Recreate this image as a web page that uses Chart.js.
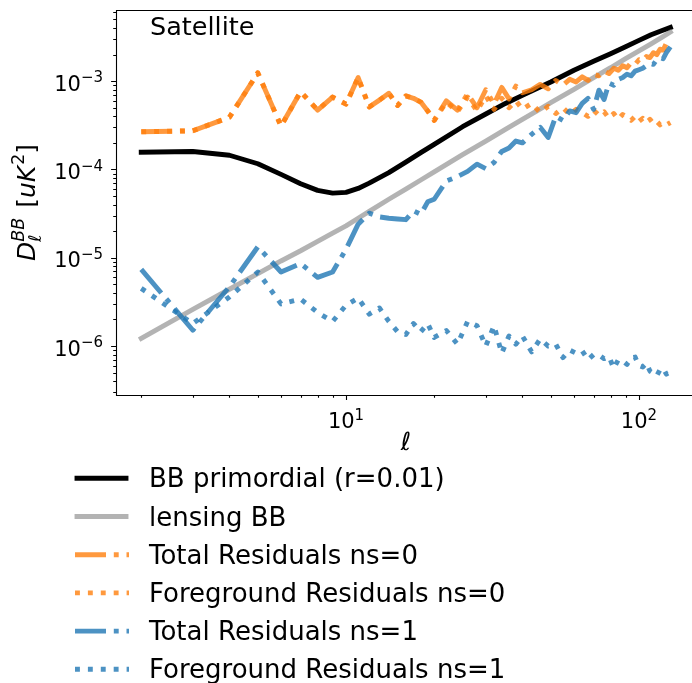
<!DOCTYPE html>
<html>
<head>
<meta charset="utf-8">
<script src="https://cdn.jsdelivr.net/npm/chart.js@4.4.1/dist/chart.umd.min.js"></script>
<style>
html, body { margin: 0; padding: 0; background: #fff; overflow: hidden; }
</style>
</head>
<body>
<canvas id="myChart" width="692" height="683"></canvas>
<script>
// multipole grid for the theory curves
var ellTheory = [2, 3, 4, 5, 6, 7, 8, 9, 10, 11, 12, 14, 16, 18, 20, 25, 30, 35, 40, 45, 50, 60, 70, 80, 90, 100, 110, 120, 128];
var bbPrimordial = [1.57e-4, 1.6e-4, 1.45e-4, 1.16e-4, 8.8e-5, 6.9e-5, 5.8e-5, 5.4e-5, 5.5e-5, 6.1e-5, 7.0e-5, 9.2e-5, 1.21e-4, 1.55e-4, 1.92e-4,
  3.05e-4, 4.25e-4, 5.6e-4, 6.9e-4, 8.3e-4, 9.8e-4, 1.33e-3, 1.68e-3, 2.05e-3, 2.45e-3, 2.9e-3, 3.35e-3, 3.75e-3, 4.06e-3];
var lensingBB = [1.22e-6, 2.6e-6, 4.4e-6, 6.6e-6, 9.2e-6, 1.2e-5, 1.53e-5, 1.9e-5, 2.3e-5, 2.8e-5, 3.35e-5, 4.6e-5, 6.0e-5, 7.6e-5, 9.4e-5,
  1.47e-4, 2.1e-4, 2.85e-4, 3.7e-4, 4.65e-4, 5.7e-4, 8.1e-4, 1.1e-3, 1.42e-3, 1.8e-3, 2.2e-3, 2.65e-3, 3.15e-3, 3.6e-3];

// multipole grid for the residuals
var ellResid = [2, 3, 4, 5, 6, 7, 8, 9, 10, 11, 12, 13, 14, 15, 16, 17, 18, 19, 20,
  22, 24, 26, 28, 30, 32, 34, 36, 38, 40,
  43, 46, 49, 52, 55, 58, 61, 64, 67, 70, 73, 76, 79, 82, 85, 88, 91, 94, 97, 100,
  103, 106, 109, 112, 115, 118, 121, 124, 128];
var totalNs0 = [2.67e-4, 2.74e-4, 3.9e-4, 1.24e-3, 3.1e-4, 7.6e-4, 4.7e-4, 6.6e-4, 5.5e-4, 1.1e-3,
  5.1e-4, 6.1e-4, 7.3e-4, 5.3e-4, 6.8e-4, 6.4e-4, 5.8e-4, 4.6e-4, 3.6e-4,
  6.0e-4, 4.7e-4, 7.2e-4, 5.0e-4, 8.0e-4, 5.5e-4, 8.5e-4, 6.3e-4, 8.8e-4, 7.4e-4,
  8.0e-4, 9.2e-4, 8.2e-4, 1.02e-3, 9.0e-4, 1.05e-3, 9.8e-4, 1.12e-3, 1.02e-3, 1.2e-3,
  1.15e-3, 1.3e-3, 1.22e-3, 1.4e-3, 1.33e-3, 1.5e-3, 1.42e-3, 1.62e-3, 1.55e-3, 1.75e-3,
  1.7e-3, 1.9e-3, 1.85e-3, 2.1e-3, 2.0e-3, 2.3e-3, 2.25e-3, 2.7e-3, 2.6e-3];
var fgNs0 = [2.67e-4, 2.74e-4, 3.9e-4, 1.24e-3, 3.1e-4, 7.6e-4, 4.7e-4, 6.6e-4, 5.5e-4, 1.1e-3,
  5.1e-4, 6.1e-4, 7.3e-4, 5.3e-4, 6.8e-4, 6.4e-4, 5.8e-4, 4.6e-4, 3.6e-4,
  5.8e-4, 4.5e-4, 6.6e-4, 4.6e-4, 6.8e-4, 4.8e-4, 6.4e-4, 5.0e-4, 6.0e-4, 4.8e-4,
  5.6e-4, 4.4e-4, 5.2e-4, 4.3e-4, 5.0e-4, 4.2e-4, 4.8e-4, 4.4e-4, 4.0e-4, 4.7e-4,
  4.1e-4, 4.5e-4, 3.8e-4, 4.3e-4, 3.7e-4, 4.2e-4, 3.9e-4, 3.6e-4, 4.0e-4, 3.5e-4,
  3.8e-4, 3.4e-4, 3.7e-4, 3.3e-4, 3.5e-4, 3.2e-4, 3.4e-4, 3.2e-4, 3.4e-4];
var totalNs1 = [7.4e-6, 1.51e-6, 4.7e-6, 1.33e-5, 6.9e-6, 8.6e-6, 6.0e-6, 6.9e-6, 1.25e-5, 2.4e-5,
  3.2e-5, 2.9e-5, 2.8e-5, 2.75e-5, 2.7e-5, 3.4e-5, 3.1e-5, 4.3e-5, 4.6e-5,
  7.4e-5, 8.3e-5, 9.5e-5, 1.15e-4, 1.02e-4, 1.2e-4, 1.6e-4, 1.75e-4, 2.1e-4, 2.0e-4,
  2.5e-4, 3.0e-4, 2.3e-4, 4.0e-4, 3.6e-4, 4.6e-4, 4.4e-4, 5.6e-4, 6.4e-4, 4.8e-4,
  7.9e-4, 6.2e-4, 9.5e-4, 9.0e-4, 1.05e-3, 1.1e-3, 1.2e-3, 1.15e-3, 1.3e-3, 1.35e-3,
  1.4e-3, 1.5e-3, 1.6e-3, 1.55e-3, 1.75e-3, 1.85e-3, 1.8e-3, 2.1e-3, 2.45e-3];
var fgNs1 = [4.5e-6, 1.8e-6, 3.6e-6, 6.9e-6, 3.0e-6, 3.4e-6, 2.4e-6, 1.9e-6, 2.9e-6, 3.5e-6,
  2.3e-6, 2.7e-6, 1.9e-6, 1.45e-6, 1.35e-6, 1.8e-6, 1.45e-6, 1.8e-6, 1.25e-6,
  1.5e-6, 1.05e-6, 1.9e-6, 1.7e-6, 1.0e-6, 1.7e-6, 8.3e-7, 1.3e-6, 1.05e-6, 1.3e-6,
  8.6e-7, 1.2e-6, 1.0e-6, 1.05e-6, 7.4e-7, 9.0e-7, 8.3e-7, 8.8e-7, 7.0e-7, 8.0e-7,
  7.9e-7, 7.2e-7, 7.6e-7, 5.6e-7, 7.0e-7, 6.8e-7, 6.2e-7, 7.4e-7, 7.5e-7, 6.0e-7,
  5.8e-7, 6.4e-7, 5.2e-7, 4.9e-7, 4.6e-7, 5.4e-7, 5.6e-7, 4.8e-7, 5.1e-7];

var seriesLabels = ["BB primordial (r=0.01)", "lensing BB", "Total Residuals ns=0",
  "Foreground Residuals ns=0", "Total Residuals ns=1", "Foreground Residuals ns=1"];
var xTickExps = [1, 2];
var yTickExps = [-3, -4, -5, -6];

var lw = 4.9;
var dashDot = [31, 7.8, 4.9, 7.8];
var dotted = [4.9, 8.0];
var orange = "rgba(255,127,14,0.8)";
var blue = "rgba(31,119,180,0.8)";

function pts(ell, vals) {
    return ell.map(function (l, i) { return { x: l, y: vals[i] }; });
}

var datasets = [
    { label: seriesLabels[0], data: pts(ellTheory, bbPrimordial), borderColor: "#000", borderDash: [], borderCapStyle: "square" },
    { label: seriesLabels[1], data: pts(ellTheory, lensingBB), borderColor: "rgba(128,128,128,0.6)", borderDash: [], borderCapStyle: "square" },
    { label: seriesLabels[2], data: pts(ellResid, totalNs0), borderColor: orange, borderDash: dashDot },
    { label: seriesLabels[3], data: pts(ellResid, fgNs0), borderColor: orange, borderDash: dotted },
    { label: seriesLabels[4], data: pts(ellResid, totalNs1), borderColor: blue, borderDash: dashDot },
    { label: seriesLabels[5], data: pts(ellResid, fgNs1), borderColor: blue, borderDash: dotted }
];
// matplotlib draws later lines on top
datasets.forEach(function (d, i) {
    d.order = datasets.length - i;
    d.borderWidth = lw;
    d.pointRadius = 0;
    d.fill = false;
});

var FONT = '"DejaVu Sans", sans-serif';
var tickFont = "21px " + FONT;
var supFont = "15px " + FONT;

function powLabel(ctx, x, y, exp, align) {
    var base = "10", sup = String(exp).replace("-", "\u2212");
    ctx.font = tickFont;
    var wb = ctx.measureText(base).width;
    ctx.font = supFont;
    var ws = ctx.measureText(sup).width;
    var x0 = align === "right" ? x - wb - ws : x - (wb + ws) / 2;
    ctx.textAlign = "left";
    ctx.textBaseline = "alphabetic";
    ctx.font = tickFont;
    ctx.fillText(base, x0, y);
    ctx.font = supFont;
    ctx.fillText(sup, x0 + wb, y - 8.3);
}

function logTicks(scale) {
    var out = [];
    var lo = Math.floor(Math.log10(scale.min)), hi = Math.ceil(Math.log10(scale.max));
    for (var d = lo; d <= hi; d++) {
        for (var m = 1; m < 10; m++) {
            var v = m * Math.pow(10, d);
            if (v >= scale.min && v <= scale.max) out.push({ v: v, major: m === 1 });
        }
    }
    return out;
}

var decor = {
    id: "decor",
    afterDraw: function (chart) {
        var ctx = chart.ctx, a = chart.chartArea;
        var xs = chart.scales.x, ys = chart.scales.y;
        ctx.save();
        ctx.fillStyle = "#000";
        ctx.strokeStyle = "#000";
        ctx.lineWidth = 1.1;
        ctx.setLineDash([]);

        // spines (the right one falls outside the picture)
        ctx.beginPath();
        ctx.moveTo(a.right + 10, a.top + 0.5);
        ctx.lineTo(a.left + 0.5, a.top + 0.5);
        ctx.lineTo(a.left + 0.5, a.bottom + 0.5);
        ctx.lineTo(a.right + 10, a.bottom + 0.5);
        ctx.stroke();

        // ticks
        ctx.beginPath();
        logTicks(xs).forEach(function (t) {
            var px = Math.round(xs.getPixelForValue(t.v)) + 0.5;
            ctx.moveTo(px, a.bottom);
            ctx.lineTo(px, a.bottom + (t.major ? 4.9 : 2.8));
        });
        logTicks(ys).forEach(function (t) {
            var py = Math.round(ys.getPixelForValue(t.v)) + 0.5;
            ctx.moveTo(a.left, py);
            ctx.lineTo(a.left - (t.major ? 4.9 : 2.8), py);
        });
        ctx.stroke();

        // tick labels
        xTickExps.forEach(function (e) {
            powLabel(ctx, xs.getPixelForValue(Math.pow(10, e)), a.bottom + 33, e, "center");
        });
        yTickExps.forEach(function (e) {
            powLabel(ctx, a.left - 13, ys.getPixelForValue(Math.pow(10, e)) + 9.5, e, "right");
        });

        // x label
        ctx.font = "italic 25px " + FONT;
        ctx.textAlign = "center";
        ctx.fillText("\u2113", 406, 450);

        // y label: D_l^BB [uK^2]
        ctx.save();
        ctx.translate(35, (a.top + a.bottom) / 2);
        ctx.rotate(-Math.PI / 2);
        ctx.textAlign = "left";
        var big = "25px " + FONT, bigI = "italic 25px " + FONT;
        var sm = "17.5px " + FONT, smI = "italic 17.5px " + FONT;
        ctx.font = bigI; var wD = ctx.measureText("D").width;
        ctx.font = smI; var wl = ctx.measureText("\u2113").width, wBB = ctx.measureText("BB").width;
        var wSS = Math.max(wl, wBB) + 2;
        ctx.font = big; var wSp = ctx.measureText(" [").width, wR = ctx.measureText("]").width;
        ctx.font = bigI; var wuK = ctx.measureText("uK").width;
        ctx.font = sm; var w2 = ctx.measureText("2").width;
        var W = wD + wSS + wSp + wuK + w2 + 1 + wR;
        var x = -W / 2;
        ctx.font = bigI; ctx.fillText("D", x, 0); x += wD;
        ctx.font = smI; ctx.fillText("\u2113", x, 6); ctx.fillText("BB", x, -11); x += wSS;
        ctx.font = big; ctx.fillText(" [", x, 0); x += wSp;
        ctx.font = bigI; ctx.fillText("uK", x, 0); x += wuK + 1;
        ctx.font = sm; ctx.fillText("2", x, -11); x += w2;
        ctx.font = big; ctx.fillText("]", x, 0);
        ctx.restore();

        // panel title
        ctx.font = "25.5px " + FONT;
        ctx.textAlign = "left";
        ctx.fillText("Satellite", 150, 35);

        // legend below the axes
        chart.data.datasets.forEach(function (d, i) {
            var cy = 478.3 + i * 38.2;
            ctx.save();
            ctx.strokeStyle = d.borderColor;
            ctx.lineWidth = lw;
            ctx.lineCap = d.borderDash.length ? "butt" : "square";
            ctx.setLineDash(d.borderDash);
            ctx.beginPath();
            ctx.moveTo(d.borderDash.length ? 75 : 77, cy);
            ctx.lineTo(d.borderDash.length ? 129 : 126, cy);
            ctx.stroke();
            ctx.restore();
            ctx.font = "26px " + FONT;
            ctx.textAlign = "left";
            ctx.fillStyle = "#000";
            ctx.fillText(d.label, 149, cy + 9);
        });
        ctx.restore();
    }
};

new Chart("myChart", {
    type: "line",
    data: { datasets: datasets },
    options: {
        responsive: false,
        animation: false,
        devicePixelRatio: 1,
        layout: { padding: { left: 116, top: 10, right: 0, bottom: 288 } },
        elements: {
            line: { tension: 0, borderJoinStyle: "round" },
            point: { radius: 0 }
        },
        plugins: {
            legend: { display: false },
            tooltip: { enabled: false }
        },
        scales: {
            x: { type: "logarithmic", min: 1.64, max: 151.7, display: false },
            y: { type: "logarithmic", min: 2.79e-7, max: 6.4e-3, display: false }
        }
    },
    plugins: [decor]
});
</script>
</body>
</html>
